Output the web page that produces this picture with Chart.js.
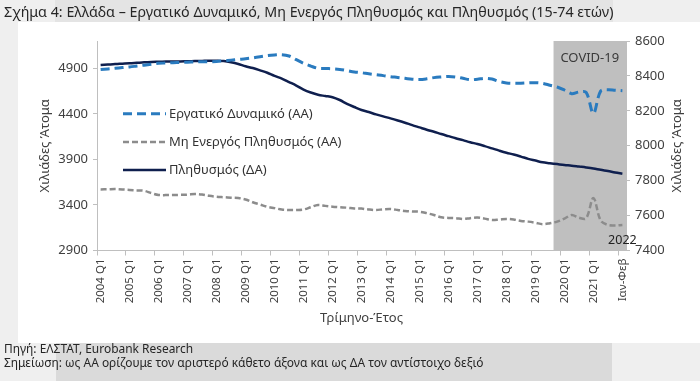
<!DOCTYPE html>
<html>
<head>
<meta charset="utf-8">
<script src="https://cdn.jsdelivr.net/npm/chart.js@4/dist/chart.umd.min.js"></script>
<style>
html,body{margin:0;padding:0;background:#efefef;}
#wrap{position:relative;width:700px;height:381px;overflow:hidden;font-family:"Noto Sans",sans-serif;}
.bg{position:absolute;}
#title{position:absolute;left:4px;top:3px;font-size:13.5px;color:#262626;white-space:nowrap;line-height:18px;}
#foot{position:absolute;left:4px;top:342px;font-size:11.5px;color:#262626;line-height:14px;white-space:nowrap;}
#foot div{white-space:nowrap;display:inline-block;}
canvas{position:absolute;left:0;top:0;}
</style>
</head>
<body>
<div id="wrap">
  <div class="bg" style="left:55px;top:0;width:558px;height:22px;background:#e4e4e4"></div>
  <div class="bg" style="left:18px;top:22px;width:682px;height:321px;background:#ffffff"></div>
  <div class="bg" style="left:56px;top:343px;width:556px;height:38px;background:#dadada"></div>
  <canvas id="c" width="700" height="381"></canvas>
  <div id="title">Σχήμα 4: Ελλάδα – Εργατικό Δυναμικό, Μη Ενεργός Πληθυσμός και Πληθυσμός (15-74 ετών)</div>
  <div id="foot"><div id="f1">Πηγή: ΕΛΣΤΑΤ, Eurobank Research</div><br><div id="f2">Σημείωση: ως ΑΑ ορίζουμε τον αριστερό κάθετο άξονα και ως ΔΑ τον αντίστοιχο δεξιό</div></div>
</div>
<script>
// ---------- DATA ----------
const categories = [
  '2004 Q1','2004 Q2','2004 Q3','2004 Q4',
  '2005 Q1','2005 Q2','2005 Q3','2005 Q4',
  '2006 Q1','2006 Q2','2006 Q3','2006 Q4',
  '2007 Q1','2007 Q2','2007 Q3','2007 Q4',
  '2008 Q1','2008 Q2','2008 Q3','2008 Q4',
  '2009 Q1','2009 Q2','2009 Q3','2009 Q4',
  '2010 Q1','2010 Q2','2010 Q3','2010 Q4',
  '2011 Q1','2011 Q2','2011 Q3','2011 Q4',
  '2012 Q1','2012 Q2','2012 Q3','2012 Q4',
  '2013 Q1','2013 Q2','2013 Q3','2013 Q4',
  '2014 Q1','2014 Q2','2014 Q3','2014 Q4',
  '2015 Q1','2015 Q2','2015 Q3','2015 Q4',
  '2016 Q1','2016 Q2','2016 Q3','2016 Q4',
  '2017 Q1','2017 Q2','2017 Q3','2017 Q4',
  '2018 Q1','2018 Q2','2018 Q3','2018 Q4',
  '2019 Q1','2019 Q2','2019 Q3','2019 Q4',
  '2020 Q1','2020 Q2','2020 Q3','2020 Q4',
  '2021 Q1','2021 Q2','2021 Q3','2021 Q4',
  'Ιαν-Φεβ'
];
const tickLabels = ['2004 Q1','2005 Q1','2006 Q1','2007 Q1','2008 Q1','2009 Q1','2010 Q1','2011 Q1','2012 Q1',
  '2013 Q1','2014 Q1','2015 Q1','2016 Q1','2017 Q1','2018 Q1','2019 Q1','2020 Q1','2021 Q1','Ιαν-Φεβ'];
const lastYearNote = '2022';
const covidStart = '2019 Q4';
const covidLabel = 'COVID-19';

const seriesNames = ['Εργατικό Δυναμικό (ΑΑ)', 'Μη Ενεργός Πληθυσμός (ΑΑ)', 'Πληθυσμός (ΔΑ)'];

// Εργατικό Δυναμικό (left axis, thousands)
const laborForce = [
  4886,4893,4900,4908,
  4915,4925,4935,4945,
  4955,4958,4962,4965,
  4968,4970,4972,4973,
  4975,4982,4990,4998,
  5005,5015,5028,5040,
  5047,5050,5035,4995,
  4955,4925,4900,4898,
  4895,4888,4875,4860,
  4852,4840,4830,4820,
  4808,4800,4790,4780,
  4777,4785,4798,4805,
  4810,4805,4790,4775,
  4780,4790,4782,4755,
  4740,4736,4736,4740,
  4742,4735,4715,4695,
  4662,4622,4640,4636,
  4405,4650,4665,4660,
  4655
];
// Μη Ενεργός Πληθυσμός (left axis, thousands)
const inactive = [
  3571,3572,3574,3570,
  3565,3560,3556,3530,
  3510,3508,3509,3511,
  3513,3520,3515,3500,
  3490,3485,3480,3476,
  3460,3430,3405,3380,
  3365,3350,3345,3345,
  3350,3375,3400,3390,
  3381,3375,3370,3362,
  3360,3350,3345,3352,
  3355,3345,3334,3328,
  3326,3310,3290,3265,
  3258,3255,3246,3255,
  3261,3250,3236,3240,
  3246,3240,3225,3217,
  3205,3189,3200,3217,
  3250,3290,3260,3254,
  3475,3230,3181,3175,
  3180
];
// Πληθυσμός (right axis, thousands)
const population = [
  8462,8465,8468,8470,
  8472,8475,8478,8480,
  8481,8482,8483,8483,
  8484,8485,8486,8487,
  8487,8485,8478,8468,
  8455,8445,8432,8418,
  8400,8385,8365,8345,
  8322,8305,8292,8285,
  8278,8262,8240,8222,
  8205,8193,8180,8168,
  8157,8145,8132,8118,
  8105,8092,8080,8067,
  8055,8043,8032,8020,
  8010,7998,7985,7972,
  7960,7950,7938,7925,
  7915,7905,7900,7895,
  7890,7886,7881,7876,
  7870,7862,7855,7847,
  7840
];
const leftTicks = [2900, 3400, 3900, 4400, 4900];
const rightTicks = [7400, 7600, 7800, 8000, 8200, 8400, 8600];
const leftRange = [2900, 5200];
const rightRange = [7400, 8600];
const yTitle = 'Χιλιάδες Άτομα';
const xTitle = 'Τρίμηνο-Έτος';

// ---------- STYLE / LAYOUT ----------
const FONT = '"Noto Sans", sans-serif';
const AXIS_GRAY = '#bfbfbf';
const TEXT = '#404040';

function fitWidth(el, w) {
  const fs = parseFloat(getComputedStyle(el).fontSize);
  const cur = el.getBoundingClientRect().width;
  return fs * w / cur;
}
(function(){
  const t = document.getElementById('title');
  t.style.fontSize = fitWidth(t, 610) + 'px';
  const f2 = document.getElementById('f2');
  const fs = fitWidth(f2, 480);
  document.getElementById('foot').style.fontSize = fs + 'px';
})();

const decorPlugin = {
  id: 'decor',
  beforeDraw(chart) {
    const {ctx, chartArea, scales: {x}} = chart;
    const i0 = categories.indexOf(covidStart);
    const half = (x.getPixelForValue(1) - x.getPixelForValue(0)) / 2;
    const left = x.getPixelForValue(i0) - half;
    ctx.save();
    ctx.fillStyle = '#bfbfbf';
    ctx.fillRect(left, chartArea.top, chartArea.right - left, chartArea.bottom - chartArea.top);
    ctx.fillStyle = '#3a3a3a';
    ctx.font = '13px ' + FONT;
    ctx.textAlign = 'center';
    ctx.textBaseline = 'middle';
    ctx.fillText(covidLabel, (left + chartArea.right) / 2, chartArea.top + 17);
    ctx.restore();
  },
  afterDraw(chart) {
    // right-axis title, reading bottom-to-top like the left one
    const {ctx, chartArea} = chart;
    ctx.save();
    ctx.translate(677, (chartArea.top + chartArea.bottom) / 2);
    ctx.rotate(-Math.PI / 2);
    ctx.fillStyle = TEXT;
    ctx.font = '13px ' + FONT;
    ctx.textAlign = 'center';
    ctx.textBaseline = 'middle';
    ctx.fillText(yTitle, 0, 0);
    ctx.restore();
  },
  afterDatasetsDraw(chart) {
    const {ctx, chartArea, scales: {x}} = chart;
    ctx.save();
    ctx.fillStyle = '#222';
    ctx.font = '12.5px ' + FONT;
    ctx.textAlign = 'center';
    ctx.textBaseline = 'middle';
    ctx.fillText(lastYearNote, x.getPixelForValue(categories.length - 1), chartArea.bottom - 10);
    const lx = chartArea.left + 26, ly = chartArea.top + 72.7, gap = 28.2, len = 43;
    ctx.textAlign = 'left';
    ctx.font = '13px ' + FONT;
    chart.data.datasets.forEach((ds, i) => {
      const y = ly + i * gap;
      ctx.strokeStyle = ds.borderColor;
      ctx.lineWidth = ds.borderWidth;
      ctx.setLineDash(ds.borderDash || []);
      ctx.beginPath();
      ctx.moveTo(lx, y);
      ctx.lineTo(lx + len, y);
      ctx.stroke();
      ctx.setLineDash([]);
      ctx.fillStyle = '#333';
      ctx.fillText(ds.label, lx + len + 3, y + 0.5);
    });
    ctx.restore();
  }
};

const plainNumber = (v) => String(v);

new Chart(document.getElementById('c'), {
  type: 'line',
  data: {
    labels: categories,
    datasets: [
      { label: seriesNames[0], data: laborForce, yAxisID: 'y', borderColor: '#2a7bbf', borderWidth: 3, borderDash: [9, 5], pointRadius: 0, tension: 0.35, fill: false },
      { label: seriesNames[1], data: inactive, yAxisID: 'y', borderColor: '#8c8c8c', borderWidth: 2.5, borderDash: [6, 3], pointRadius: 0, tension: 0.35, fill: false },
      { label: seriesNames[2], data: population, yAxisID: 'y1', borderColor: '#0f1f4e', borderWidth: 2.5, pointRadius: 0, tension: 0.35, fill: false }
    ]
  },
  options: {
    responsive: false,
    animation: false,
    devicePixelRatio: 1,
    layout: { padding: { top: 41, left: 0, right: 0, bottom: 0 } },
    plugins: { legend: { display: false }, tooltip: { enabled: false }, title: { display: false } },
    scales: {
      x: {
        type: 'category',
        offset: true,
        grid: {
          offset: true, drawOnChartArea: false, drawTicks: true, tickLength: 5,
          color: AXIS_GRAY,
          tickColor: (c) => (c.index % 4 === 0 && c.index < categories.length) ? AXIS_GRAY : 'rgba(0,0,0,0)'
        },
        border: { display: true, color: AXIS_GRAY, width: 1 },
        ticks: {
          autoSkip: false, minRotation: 90, maxRotation: 90, padding: 3, color: TEXT,
          font: { family: FONT, size: 11.5 },
          callback: (v, i) => tickLabels.includes(categories[i]) ? categories[i] : ''
        },
        title: { display: true, text: xTitle, color: TEXT, font: { family: FONT, size: 13 }, padding: { top: 0, bottom: 55.2 } },
        afterFit(s) { s.height = 130.5; }
      },
      y: {
        position: 'left',
        min: leftRange[0], max: leftRange[1],
        afterBuildTicks(s) { s.ticks = leftTicks.map(v => ({ value: v })); },
        grid: { drawOnChartArea: false, drawTicks: true, tickLength: 4, tickColor: AXIS_GRAY },
        border: { display: true, color: AXIS_GRAY, width: 1 },
        ticks: { padding: 5, color: TEXT, font: { family: FONT, size: 13 }, callback: plainNumber },
        title: { display: true, text: yTitle, color: TEXT, font: { family: FONT, size: 13 }, padding: { top: 37.2, bottom: 0 } },
        afterFit(s) { s.width = 97; }
      },
      y1: {
        position: 'right',
        min: rightRange[0], max: rightRange[1],
        afterBuildTicks(s) { s.ticks = rightTicks.map(v => ({ value: v })); },
        grid: { drawOnChartArea: false, drawTicks: true, tickLength: 4, tickColor: AXIS_GRAY },
        border: { display: true, color: AXIS_GRAY, width: 1 },
        ticks: { padding: 5, color: TEXT, font: { family: FONT, size: 13 }, callback: plainNumber },
        title: { display: false },
        afterFit(s) { s.width = 74; }
      }
    }
  },
  plugins: [decorPlugin]
});
</script>
</body>
</html>
